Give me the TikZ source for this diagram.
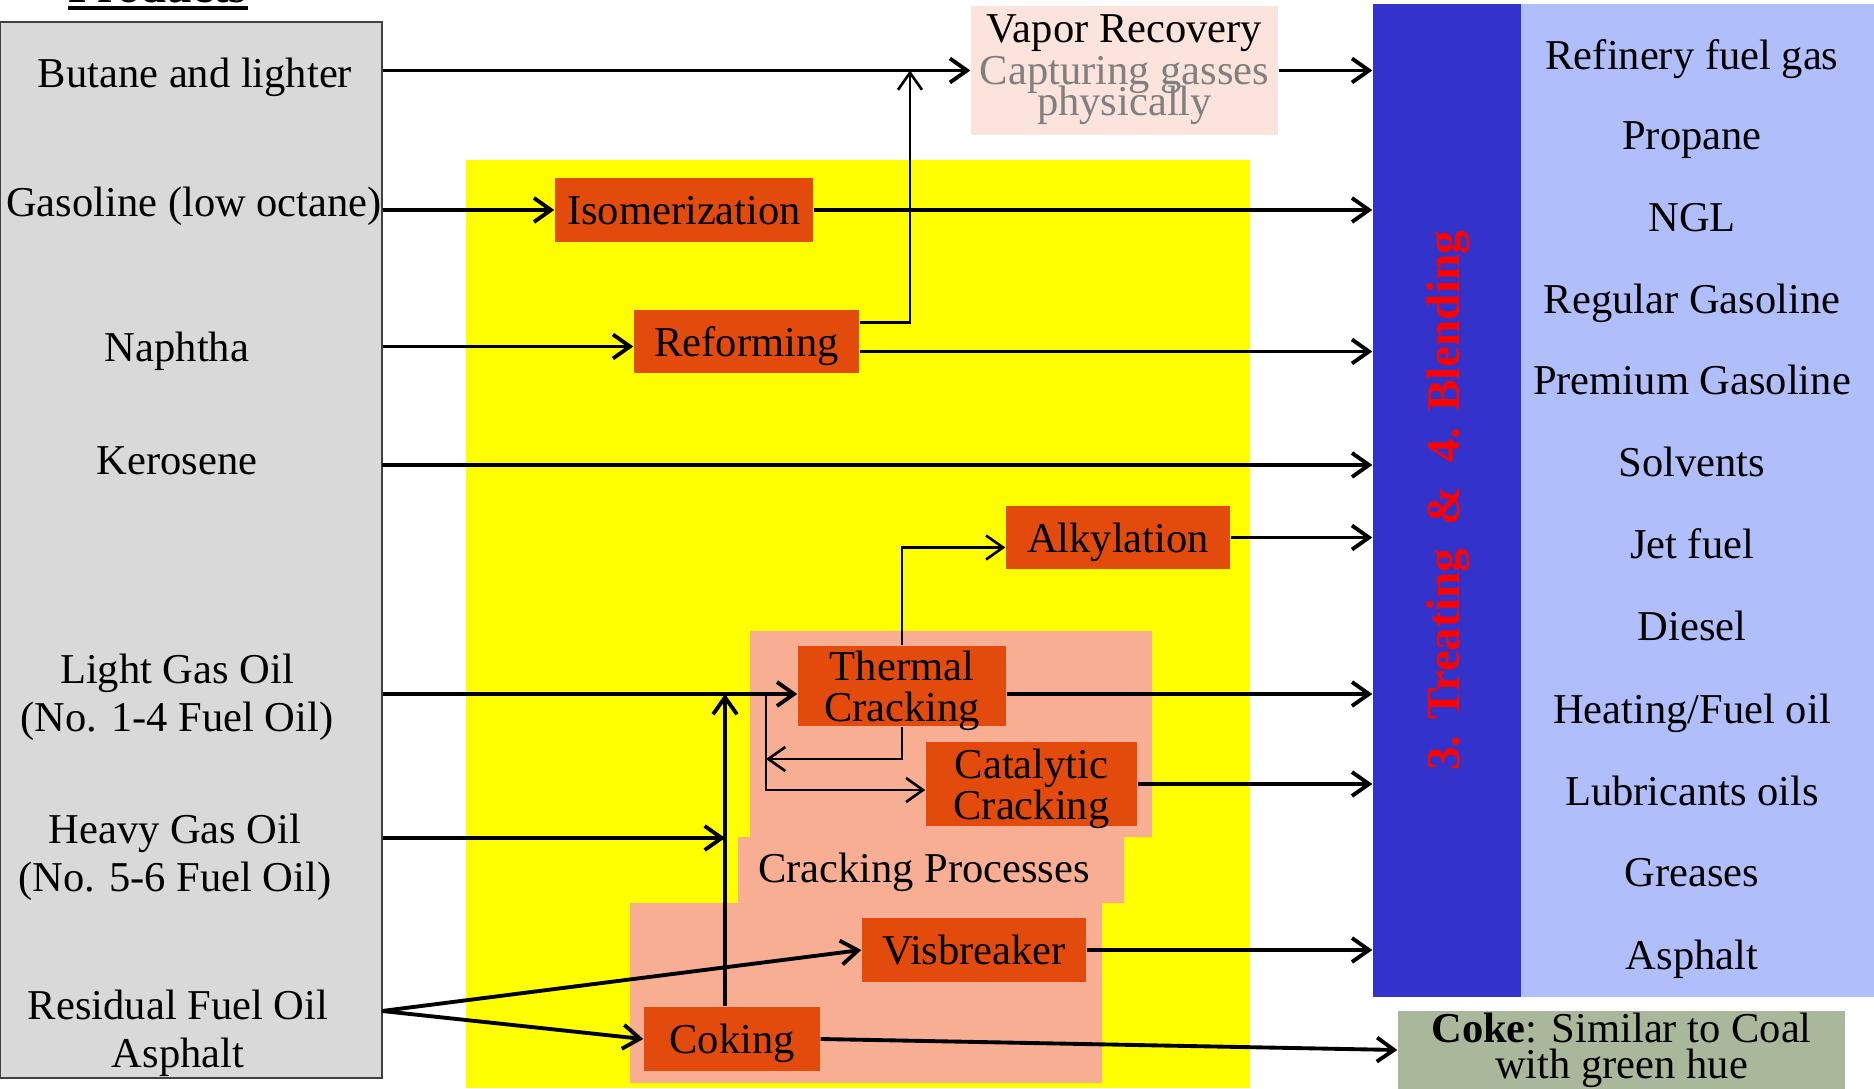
\documentclass[tikz,border=0pt]{standalone}
\usepackage{fontspec}
\setmainfont{Liberation Serif}
\usepackage{xcolor}
\usetikzlibrary{arrows.meta,positioning}
\definecolor{rfgray}{HTML}{D9D9D9}
\definecolor{rfyellow}{HTML}{FFFF00}
\definecolor{rforange}{HTML}{E24B0C}
\definecolor{rfsalmon}{HTML}{F8AE92}
\definecolor{rfpink}{HTML}{FCE3DC}
\definecolor{rfblue}{HTML}{3333CC}
\definecolor{rflight}{HTML}{B0BFFB}
\definecolor{rfcoke}{HTML}{A9B79B}
\definecolor{rfsub}{HTML}{808080}

\begin{document}
\begin{tikzpicture}[
  font=\fontsize{12.1}{13.6}\selectfont,
  every node/.style={text depth=0pt},
  feed/.style={align=center, inner sep=0pt},
  proc/.style={fill=rforange, inner sep=0pt, align=center,
    font=\fontsize{12.1}{11.8}\selectfont},
  column/.style={minimum height=9.93cm, inner sep=0pt},
  arr/.style={-{Straight Barb[length=1.7mm,width=2.4mm]}, line width=1.1pt},
  link/.style={-{Straight Barb[length=1.7mm,width=2.4mm]}, line width=0.75pt},
]
\useasboundingbox (0,0) rectangle (18.74,10.88);
% regions behind the process boxes
\fill[rfyellow] (4.66,0) rectangle (12.50,9.28);
\fill[rfsalmon] (7.50,4.57) -- (11.52,4.57) -- (11.52,2.51) -- (11.24,2.51) -- (11.24,1.85)
  -- (11.02,1.85) -- (11.02,0.05) -- (6.30,0.05) -- (6.30,1.85) -- (7.38,1.85) -- (7.38,2.51)
  -- (7.50,2.51) -- cycle;

% crude cuts
\node[draw=black!75, line width=0.6pt, fill=rfgray, minimum width=3.82cm,
  minimum height=10.56cm, inner sep=0pt] (prodbox) at (1.91,5.38) {};
\node[font=\bfseries\fontsize{13.3}{14}\selectfont, anchor=base, inner sep=0pt] (prodtitle) at (1.58,10.85) {Products};
\draw[line width=0.9pt] ([yshift=-0.5mm]prodtitle.base west) -- ([yshift=-0.5mm]prodtitle.base east);
\node[feed] (butane) at (1.95,10.15) {Butane and lighter};
\node[feed] (gasoline) at (1.94,8.86) {Gasoline (low octane)};
\node[feed] (naphtha) at (1.77,7.41) {Naphtha};
\node[feed] (kero) at (1.77,6.27) {Kerosene};
\node[feed] (lgo) at (1.77,3.95) {Light Gas Oil\\(No. 1-4 Fuel Oil)};
\node[feed] (hgo) at (1.75,2.35) {Heavy Gas Oil\\(No. 5-6 Fuel Oil)};
\node[feed] (resid) at (1.78,0.59) {Residual Fuel Oil\\Asphalt};

% processes
\node[fill=rfpink, minimum width=3.07cm, minimum height=1.29cm, inner sep=0pt, align=center,
  text depth=0.3em] (vapor) at (11.245,10.175)
  {Vapor Recovery\\[-1.7pt]{\color{rfsub}Capturing gasses}\\[-4.8pt]{\color{rfsub}physically}};
\node[proc, minimum width=2.58cm, minimum height=0.64cm, text height=0.85em] (isom) at (6.84,8.78) {Isomerization};
\node[proc, minimum width=2.25cm, minimum height=0.63cm, text height=0.85em] (reform) at (7.465,7.465) {Reforming};
\node[proc, minimum width=2.24cm, minimum height=0.63cm] (alky) at (11.18,5.505) {Alkylation};
\node[proc, minimum width=2.08cm, minimum height=0.80cm] (thermal) at (9.02,4.02) {Thermal\\Cracking};
\node[proc, minimum width=2.11cm, minimum height=0.84cm] (catal) at (10.315,3.04) {Catalytic\\Cracking};
\node[proc, minimum width=2.24cm, minimum height=0.64cm] (visb) at (9.74,1.38) {Visbreaker};
\node[proc, minimum width=1.76cm, minimum height=0.64cm] (coking) at (7.32,0.49) {Coking};
\node[inner sep=0pt, text depth=0.15em] (crackproc) at (9.24,2.18) {Cracking Processes};

% treating & blending, end products
\node[column, fill=rfblue, minimum width=1.48cm] (blend) at (14.47,5.875) {};
\node[column, fill=rflight, minimum width=3.53cm] (prodlist) at (16.975,5.875) {};
\node[rotate=90, anchor=base, inner sep=0pt, text=red, font=\bfseries\fontsize{13.4}{14}\selectfont] (blendlbl)
  at (14.59,5.87) {3. Treating\ \ \&\ \ 4. Blending};
\node (fuelgas) at (16.92,10.33) {Refinery fuel gas};
\node (propane) at (16.92,9.52) {Propane};
\node (ngl) at (16.92,8.71) {NGL};
\node (regular) at (16.92,7.89) {Regular Gasoline};
\node (premium) at (16.92,7.08) {Premium Gasoline};
\node (solvents) at (16.92,6.26) {Solvents};
\node (jetfuel) at (16.92,5.44) {Jet fuel};
\node (diesel) at (16.92,4.62) {Diesel};
\node (heating) at (16.92,3.79) {Heating/Fuel oil};
\node (lubes) at (16.92,2.97) {Lubricants oils};
\node (greases) at (16.92,2.16) {Greases};
\node (asphalt) at (16.92,1.33) {Asphalt};
\node[fill=rfcoke, minimum width=4.47cm, minimum height=0.78cm, inner sep=0pt, align=center,
  text depth=0.22em, font=\fontsize{12.1}{10.2}\selectfont] (coke) at (16.215,0.38) {\textbf{Coke}: Similar to Coal\\with green hue};

% flows
\coordinate (vrjoin) at (9.10,10.175);
\coordinate (napline) at ([yshift=-0.5mm]reform.west);
\coordinate (refout) at ([yshift=-1mm]reform.east);
\coordinate (keroline) at (3.82,6.23);
\coordinate (lgoline) at ([yshift=-0.8mm]thermal.west);
\coordinate (split) at (7.66,3.94);
\coordinate (back) at (7.66,3.29);
\coordinate (hgoend) at (7.25,2.50);
\coordinate (resout) at (3.82,0.77);
\draw[arr] (prodbox.east |- vapor.west) -- (vapor.west);
\draw[arr] (vapor.east) -- (blend.west |- vapor.east);
\draw[arr] (prodbox.east |- isom.west) -- (isom.west);
\draw[arr] (isom.east) -- (blend.west |- isom.east);
\draw[arr] (prodbox.east |- napline) -- (napline);
\draw[arr] (refout) -- (blend.west |- refout);
\draw[link] ([yshift=1.9mm]reform.east) -| (vrjoin);
\draw[arr] (keroline) -- (blend.west |- keroline);
\draw[arr] (alky.east) -- (blend.west |- alky.east);
\draw[arr] (prodbox.east |- lgoline) -- (lgoline);
\draw[arr] (thermal.east |- lgoline) -- (blend.west |- lgoline);
\draw[link] (thermal.north) |- ([yshift=-1mm]alky.west);
\draw[link] (thermal.south) |- (back);
\draw[link] (split) |- ([yshift=-0.6mm]catal.west);
\draw[arr] (catal.east) -- (blend.west |- catal.east);
\draw[arr] (prodbox.east |- hgoend) -- (hgoend);
\draw[arr] (coking.north -| hgoend) -- (hgoend |- split);
\draw[arr] (resout) -- (visb.west);
\draw[arr] (resout) -- (coking.west);
\draw[arr] (visb.east) -- (blend.west |- visb.east);
\draw[arr] (coking.east) -- (coke.west);
\end{tikzpicture}
\end{document}
